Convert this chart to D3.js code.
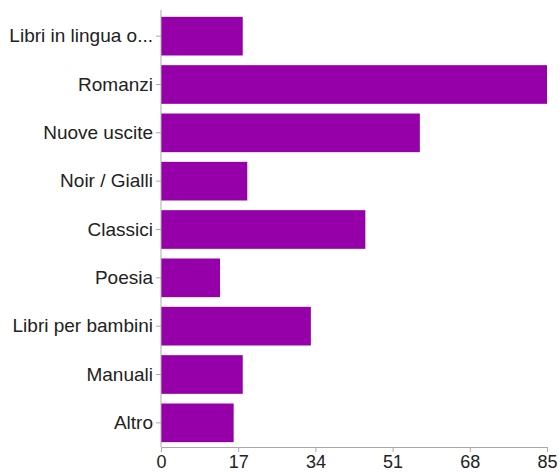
<!DOCTYPE html>
<html>
<head>
<meta charset="utf-8">
<script src="https://cdnjs.cloudflare.com/ajax/libs/d3/7.8.5/d3.min.js"></script>
<style>
  body { margin: 0; background: #fff; }
  .axis text { font-family: "Liberation Sans", Arial, Helvetica, sans-serif; font-size: 19px; fill: #222; }
  .x.axis text { font-size: 18px; }
  .axis path, .axis line { stroke: #aaa; }
</style>
</head>
<body>
<script>
//categories and counts
var categories = ["Libri in lingua o...", "Romanzi", "Nuove uscite", "Noir / Gialli",
    "Classici", "Poesia", "Libri per bambini", "Manuali", "Altro"];
var counts = [18, 85, 57, 19, 45, 13, 33, 18, 16];
var tickValues = [0, 17, 34, 51, 68, 85];

(function(){
    var width = 560,
        height = 472;
    var margin = {top: 10, right: 13, bottom: 25, left: 161};

    var svg = d3.select("body")
        .append("svg")
        .attr("width", width)
        .attr("height", height);

    var x = d3.scaleLinear()
        .domain([0, 85])
        .range([margin.left, width - margin.right]);

    var y = d3.scaleBand()
        .domain(categories)
        .range([margin.top + 2, height - margin.bottom])
        .paddingInner(0.2)
        .paddingOuter(0.1);

    //bars
    svg.selectAll(".bar")
        .data(categories)
        .enter()
        .append("rect")
        .attr("class", "bar")
        .attr("x", x(0))
        .attr("y", function(d){ return y(d); })
        .attr("width", function(d, i){ return x(counts[i]) - x(0); })
        .attr("height", y.bandwidth())
        .attr("fill", "#9500a8");

    //x axis
    var xAxis = svg.append("g")
        .attr("class", "x axis")
        .attr("transform", "translate(0," + (height - margin.bottom) + ")")
        .call(d3.axisBottom(x).tickValues(tickValues).tickSize(5).tickSizeOuter(0).tickPadding(3));
    xAxis.selectAll("text").attr("dy", "0.72em");

    //y axis
    var yAxis = svg.append("g")
        .attr("class", "y axis")
        .attr("transform", "translate(" + margin.left + ",0)")
        .call(d3.axisLeft(y).tickSize(5).tickSizeOuter(0).tickPadding(3));
    yAxis.select(".domain")
        .attr("d", "M0," + margin.top + "V" + (height - margin.bottom));
})();
</script>
</body>
</html>
